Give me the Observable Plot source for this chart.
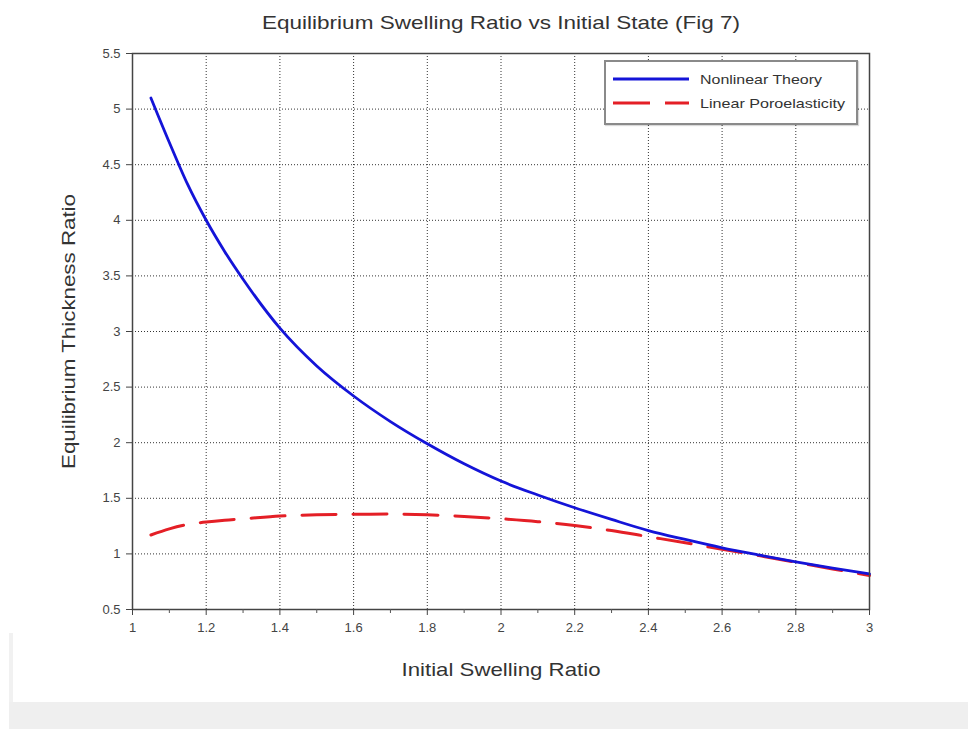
<!DOCTYPE html>
<html>
<head>
<meta charset="utf-8">
<script src="https://cdn.jsdelivr.net/npm/d3@7"></script>
<script src="https://cdn.jsdelivr.net/npm/@observablehq/plot@0.6"></script>
<style>
  html, body { margin: 0; padding: 0; background: #fff; }
  #wrap { position: relative; width: 968px; height: 729px; overflow: hidden; font-family: "Liberation Sans", Arial, sans-serif; }
  #band { position: absolute; left: 9px; top: 702px; width: 959px; height: 27px; background: #efefef; }
  #bar { position: absolute; left: 9px; top: 633px; width: 4px; height: 69px; background: #f1f1f1; }
  #legend { position: absolute; left: 604px; top: 60px; width: 250px; height: 61px; border: 2px solid #8a8a8a; background: #fff; box-shadow: 1px 1px 1px rgba(0,0,0,0.15); }
  #legend svg { position: absolute; left: 0; top: 0; }
</style>
</head>
<body>
<div id="wrap">
  <div id="chart"></div>
  <div id="bar"></div>
  <div id="band"></div>
  <div id="legend"></div>
</div>
<script>
const title = "Equilibrium Swelling Ratio vs Initial State (Fig 7)";
const xLabel = "Initial Swelling Ratio";
const yLabel = "Equilibrium Thickness Ratio";
const seriesNames = ["Nonlinear Theory", "Linear Poroelasticity"];

const swelling = [1.05, 1.1, 1.15, 1.2, 1.25, 1.3, 1.4, 1.5, 1.6, 1.7, 1.8, 1.9, 2.0, 2.1, 2.2, 2.3, 2.4, 2.5, 2.6, 2.7, 2.8, 2.9, 3.0];
const nonlinear = [5.10, 4.70, 4.32, 4.00, 3.72, 3.47, 3.03, 2.69, 2.42, 2.19, 1.99, 1.81, 1.655, 1.53, 1.415, 1.31, 1.21, 1.13, 1.055, 0.99, 0.928, 0.872, 0.82];
const linear = [1.17, 1.225, 1.265, 1.287, 1.303, 1.315, 1.340, 1.352, 1.357, 1.358, 1.352, 1.337, 1.316, 1.29, 1.256, 1.21, 1.155, 1.10, 1.042, 0.985, 0.925, 0.865, 0.805];

const xTicks = [1, 1.2, 1.4, 1.6, 1.8, 2, 2.2, 2.4, 2.6, 2.8, 3];
const xMinorTicks = [1.1, 1.3, 1.5, 1.7, 1.9, 2.1, 2.3, 2.5, 2.7, 2.9];
const yTicks = [0.5, 1, 1.5, 2, 2.5, 3, 3.5, 4, 4.5, 5, 5.5];

const colors = ["#1414d8", "#e41f26"];

const nonlinearData = swelling.map((x, i) => ({x, y: nonlinear[i]}));
const linearData = swelling.map((x, i) => ({x, y: linear[i]}));

const fmt = d => String(d);

const chart = Plot.plot({
  width: 968,
  height: 729,
  marginLeft: 132,
  marginRight: 99,
  marginTop: 53,
  marginBottom: 120,
  style: {fontFamily: "'Liberation Sans', Arial, sans-serif", fontSize: "13px", color: "#444", background: "transparent"},
  x: {domain: [1, 3]},
  y: {domain: [0.5, 5.5]},
  marks: [
    Plot.gridX(xTicks, {stroke: "#111", strokeOpacity: 0.85, strokeDasharray: "1,2", strokeWidth: 1}),
    Plot.gridY(yTicks, {stroke: "#111", strokeOpacity: 0.85, strokeDasharray: "1,2", strokeWidth: 1}),
    Plot.lineY(linearData, {x: "x", y: "y", stroke: colors[1], strokeWidth: 3, strokeDasharray: "34,17", curve: "monotone-x"}),
    Plot.lineY(nonlinearData, {x: "x", y: "y", stroke: colors[0], strokeWidth: 2.8, curve: "monotone-x"}),
    Plot.frame({stroke: "#444", strokeWidth: 1.5}),
    Plot.axisX(xTicks, {label: null, tickSize: 6, tickPadding: 7, tickFormat: fmt, stroke: "#444", fill: "#444", fontSize: 13}),
    Plot.axisX(xMinorTicks, {label: null, tickSize: 4, tickFormat: () => "", stroke: "#555"}),
    Plot.axisY(yTicks, {label: null, tickSize: 6, tickPadding: 6, tickFormat: fmt, stroke: "#444", fill: "#444", fontSize: 13}),
    Plot.text([title], {text: d => d, frameAnchor: "top", dy: -31, fontSize: 19, fill: "#333", textAnchor: "middle", lineAnchor: "middle"}),
    Plot.text([xLabel], {text: d => d, frameAnchor: "bottom", dy: 60, fontSize: 19, fill: "#333", textAnchor: "middle", lineAnchor: "middle"}),
    Plot.text([yLabel], {text: d => d, frameAnchor: "left", dx: -64, rotate: -90, fontSize: 19, fill: "#333", textAnchor: "middle", lineAnchor: "middle"})
  ]
});
document.getElementById("chart").appendChild(chart);

// match the reference's wide lettering
const textLengths = {[title]: 478, [xLabel]: 199, [yLabel]: 275};
d3.select(chart).selectAll("text").each(function() {
  const L = textLengths[this.textContent];
  if (L) {
    this.setAttribute("textLength", L);
    this.setAttribute("lengthAdjust", "spacingAndGlyphs");
  }
});

// Legend
const legend = document.getElementById("legend");
const ns = "http://www.w3.org/2000/svg";
const lsvg = document.createElementNS(ns, "svg");
lsvg.setAttribute("width", 250);
lsvg.setAttribute("height", 61);
const legendLengths = [122, 145];
seriesNames.forEach((name, i) => {
  const cy = 17 + i * 24;
  const line = document.createElementNS(ns, "line");
  line.setAttribute("x1", 7); line.setAttribute("x2", 83);
  line.setAttribute("y1", cy); line.setAttribute("y2", cy);
  line.setAttribute("stroke", colors[i]);
  line.setAttribute("stroke-width", i === 0 ? 2.8 : 3);
  if (i === 1) line.setAttribute("stroke-dasharray", "37,15");
  lsvg.appendChild(line);
  const t = document.createElementNS(ns, "text");
  t.setAttribute("x", 94); t.setAttribute("y", cy);
  t.setAttribute("dy", "0.35em");
  t.setAttribute("font-size", "13");
  t.setAttribute("font-family", "'Liberation Sans', Arial, sans-serif");
  t.setAttribute("fill", "#333");
  t.setAttribute("textLength", legendLengths[i]);
  t.setAttribute("lengthAdjust", "spacingAndGlyphs");
  t.textContent = name;
  lsvg.appendChild(t);
});
legend.appendChild(lsvg);
</script>
</body>
</html>
